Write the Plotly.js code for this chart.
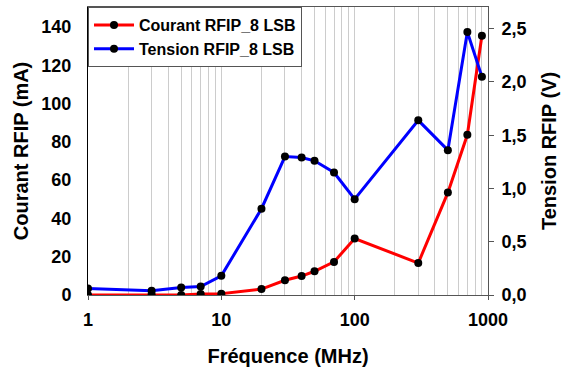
<!DOCTYPE html>
<html>
<head>
<meta charset="utf-8">
<script src="https://cdn.plot.ly/plotly-3.0.1.min.js"></script>
<style>html,body{margin:0;padding:0;background:#fff;}#chart{width:562px;height:367px;}</style>
</head>
<body>
<div id="chart"></div>
<script>
const freqMHz = [1, 3, 5, 7, 10, 20, 30, 40, 50, 70, 100, 300, 500, 700, 900];
const courantMA = [0, 0.2, 0, 0.5, 0.7, 3.1, 7.7, 9.9, 12.4, 17.3, 29.5, 16.7, 53.5, 83.7, 135.5];
const tensionV = [0.06, 0.04, 0.07, 0.08, 0.18, 0.81, 1.30, 1.29, 1.26, 1.15, 0.90, 1.64, 1.36, 2.47, 2.05];
const leftTickVals = [0, 20, 40, 60, 80, 100, 120, 140];
const rightTickVals = [0, 0.5, 1.0, 1.5, 2.0, 2.5];
const rightTickText = ['0,0', '0,5', '1,0', '1,5', '2,0', '2,5'];
const seriesNames = ['Courant RFIP_8 LSB', 'Tension RFIP_8 LSB'];

const F = 'Liberation Sans, Arial, Helvetica, sans-serif';
const traces = [
  {x: freqMHz, y: courantMA, name: seriesNames[0], type: 'scatter', mode: 'lines+markers',
   line: {color: '#ff0000', width: 3}, marker: {color: '#000', size: 8}, yaxis: 'y'},
  {x: freqMHz, y: tensionV, name: seriesNames[1], type: 'scatter', mode: 'lines+markers',
   line: {color: '#0000ff', width: 3}, marker: {color: '#000', size: 8}, yaxis: 'y2'}
];
const layout = {
  width: 562, height: 367,
  margin: {l: 88, r: 74, t: 7, b: 72},
  paper_bgcolor: '#fff', plot_bgcolor: '#fff',
  showlegend: true,
  font: {family: F, size: 18, color: '#000', weight: 700},
  xaxis: {
    type: 'log', range: [0, 3],
    tickmode: 'linear', tick0: 0, dtick: 1,
    showgrid: true, gridcolor: '#cccccc', gridwidth: 1,
    minor: {showgrid: true, gridcolor: '#cccccc', gridwidth: 1, ticks: '', dtick: 'D1'},
    ticks: 'outside', ticklen: 4, tickcolor: '#555', ticklabelstandoff: 4,
    showline: true, linecolor: '#555', linewidth: 1, mirror: true,
    zeroline: false,
    tickfont: {family: F, size: 18, weight: 700},
    title: {text: 'Fréquence (MHz)', font: {family: F, size: 20, weight: 700}, standoff: 20}
  },
  yaxis: {
    range: [0, 150.5], tickvals: leftTickVals,
    showgrid: false, zeroline: false,
    showline: true, linecolor: '#000', linewidth: 1,
    ticks: '', ticklabelstandoff: 12,
    tickfont: {family: F, size: 18, weight: 700},
    title: {text: 'Courant RFIP (mA)', font: {family: F, size: 20, weight: 700}, standoff: 7}
  },
  yaxis2: {
    overlaying: 'y', side: 'right',
    range: [0, 2.704], tickvals: rightTickVals, ticktext: rightTickText,
    showgrid: false, zeroline: false,
    showline: true, linecolor: '#555', linewidth: 1,
    ticks: 'outside', ticklen: 5, tickcolor: '#555', ticklabelstandoff: 4,
    tickfont: {family: F, size: 18, weight: 700},
    title: {text: 'Tension RFIP (V)', font: {family: F, size: 20, weight: 700}, standoff: 16}
  },
  legend: {
    x: 0, y: 1, xanchor: 'left', yanchor: 'top',
    bgcolor: '#fff', bordercolor: '#555', borderwidth: 1,
    font: {family: F, size: 16, weight: 700},
    tracegroupgap: 0, itemwidth: 40
  }
};
Plotly.newPlot('chart', traces, layout, {displayModeBar: false, staticPlot: true});
</script>
</body>
</html>
